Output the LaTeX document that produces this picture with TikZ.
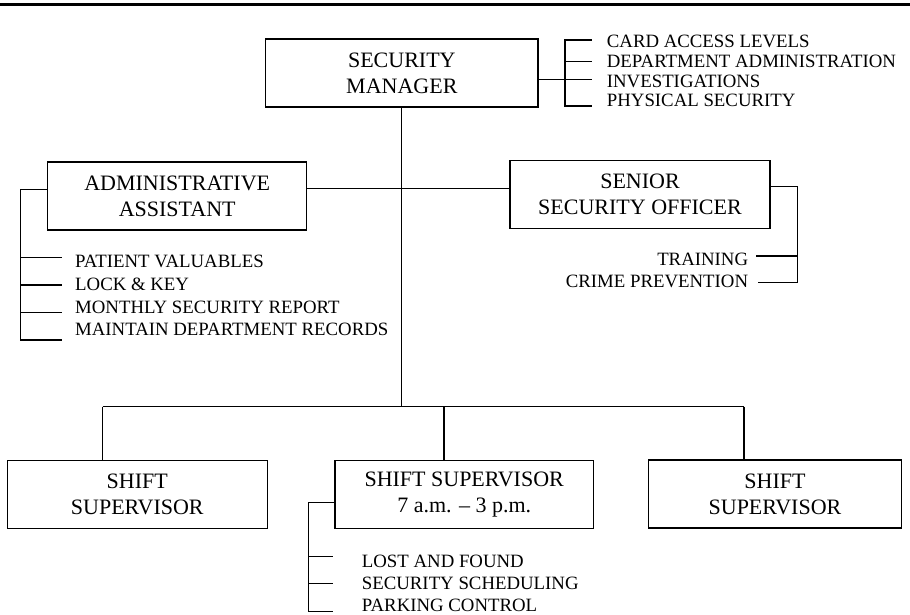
\documentclass[tikz,border=0pt]{standalone}
\usepackage{fontspec}
\setmainfont{Liberation Serif}
\begin{document}
\begin{tikzpicture}[x=1pt,y=-1pt,
  box/.style={draw,line width=1.5pt,minimum width=#1,minimum height=68pt,inner sep=0pt,align=center,font=\fontsize{22}{26}\selectfont},
  conn/.style={line width=1.2pt},
  rule/.style={line width=3pt},
  item/.style={inner sep=0pt,font=\fontsize{18.8}{20}\selectfont,anchor=west},
  itemr/.style={inner sep=0pt,font=\fontsize{18.8}{20}\selectfont,anchor=east}]
\useasboundingbox (0,0) rectangle (910,614);
% top rule
\coordinate (ruleL) at (0,4);
\coordinate (ruleR) at (910,4);
\draw[rule] (ruleL) -- (ruleR);

% boxes
\node[box=272.3pt] (sm)  at (401.85,73)  {SECURITY\\MANAGER};
\node[box=259pt]   (aa)  at (177.2,196)  {ADMINISTRATIVE\\ASSISTANT};
\node[box=260pt]   (sso) at (640,194.5)  {SENIOR\\SECURITY OFFICER};
\node[box=260pt]   (ss1) at (137.3,494.5) {SHIFT\\SUPERVISOR};
\node[box=258.3pt] (ss2) at (464.2,494.5) {SHIFT SUPERVISOR\\7 a.m. – 3 p.m.};
\node[box=253.4pt] (ss3) at (775,494)    {SHIFT\\SUPERVISOR};

% list items
\node[item] (sm1) at (606.7,41)    {CARD ACCESS LEVELS};
\node[item] (sm2) at (606.7,61)    {DEPARTMENT ADMINISTRATION};
\node[item] (sm3) at (606.7,81)    {INVESTIGATIONS};
\node[item] (sm4) at (606.7,100.5) {PHYSICAL SECURITY};

\node[item] (aa1) at (75,261.7) {PATIENT VALUABLES};
\node[item] (aa2) at (75,284.4) {LOCK \& KEY};
\node[item] (aa3) at (75,307)   {MONTHLY SECURITY REPORT};
\node[item] (aa4) at (75,329.7) {MAINTAIN DEPARTMENT RECORDS};

\node[itemr] (so1) at (748.3,259)   {TRAINING};
\node[itemr] (so2) at (748.3,281.5) {CRIME PREVENTION};

\node[item] (s21) at (361.7,561) {LOST AND FOUND};
\node[item] (s22) at (361.7,583) {SECURITY SCHEDULING};
\node[item] (s23) at (361.7,605) {PARKING CONTROL};

% trunk and buses
\coordinate (mid)  at (401.7,188.3);
\coordinate (busL) at (102.7,406.5);
\coordinate (busM) at (444,406.5);
\coordinate (busR) at (744,406.5);
\draw[conn] (sm.south) -- (sm.south |- busL);
\draw[conn] (aa.east |- mid) -- (sso.west |- mid);
\draw[conn] (busL) -- (busR);
\draw[conn] (busL) -- (busL |- ss1.north);
\draw[conn] (busM) -- (busM |- ss2.north);
\draw[conn] (busR) -- (busR |- ss3.north);

% security manager bracket
\coordinate (smT) at (565,40);
\coordinate (smB) at (565,106);
\draw[conn] (591.7,40) -- (smT) -- (smB) -- (591.7,106);
\draw[conn] (565,61.7) -- (591.7,61.7);
\draw[conn] (sm.east |- 0,79.5) -- (591.7,79.5);

% admin bracket
\coordinate (aaT) at (20.7,189.3);
\coordinate (aaB) at (20.7,340);
\draw[conn] (aa.west |- aaT) -- (aaT) -- (aaB) -- (62.3,340);
\draw[conn] (20.7,257.3) -- (62.3,257.3);
\draw[conn] (20.7,285) -- (62.3,285);
\draw[conn] (20.7,312.3) -- (62.3,312.3);

% senior bracket
\coordinate (soT) at (797.3,186.7);
\coordinate (soB) at (797.3,282.7);
\draw[conn] (sso.east |- soT) -- (soT) -- (soB) -- (758,282.7);
\draw[conn] (797.3,256) -- (756,256);

% shift supervisor bracket
\coordinate (s2T) at (308.3,502.7);
\coordinate (s2B) at (308.3,611.7);
\draw[conn] (ss2.west |- s2T) -- (s2T) -- (s2B) -- (333.3,611.7);
\draw[conn] (308.3,556.7) -- (333.3,556.7);
\draw[conn] (308.3,583.3) -- (333.3,583.3);
\end{tikzpicture}
\end{document}
